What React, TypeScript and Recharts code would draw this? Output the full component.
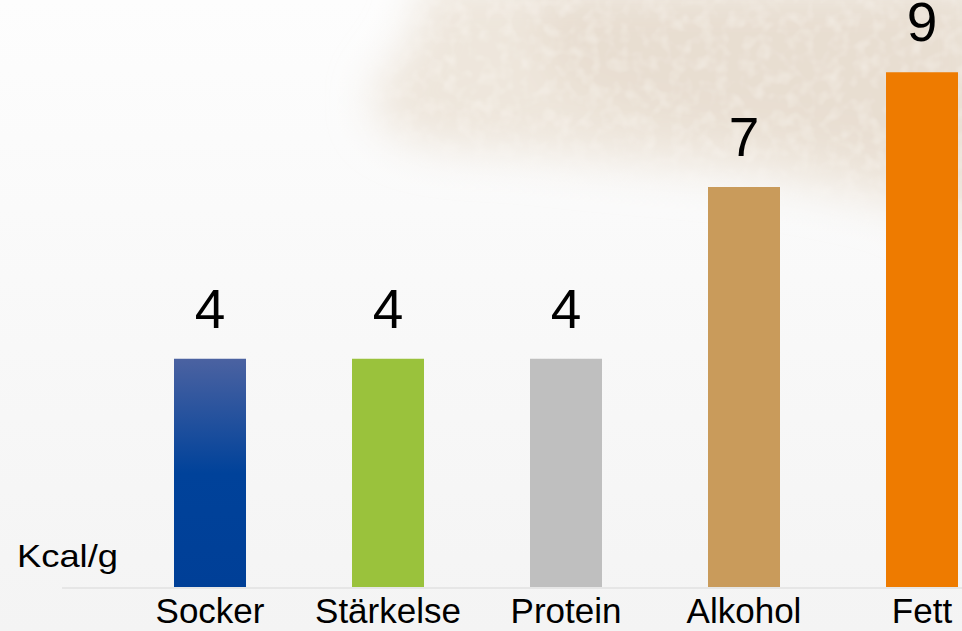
import React from 'react';
import { BarChart, Bar, XAxis, YAxis, Cell, LabelList } from 'recharts';

const categories = ['Socker', 'Stärkelse', 'Protein', 'Alkohol', 'Fett'];
const kcalPerGram = [4, 4, 4, 7, 9];
const barColors = ['url(#sockerGrad)', '#9ac23c', '#bfbfbf', '#c99b5b', '#ee7b00'];
const unitLabel = 'Kcal/g';
const yDomain = [0, 10];

const data = categories.map((name, i) => ({ name, value: kcalPerGram[i] }));

const FONT = '"Liberation Sans", Arial, Helvetica, sans-serif';

function Background() {
  return (
    <svg width={962} height={631} style={{ position: 'absolute', left: 0, top: 0 }}>
      <defs>
        <linearGradient id="bgGrad" x1="0" y1="0" x2="0" y2="1">
          <stop offset="0%" stopColor="#fdfdfd" />
          <stop offset="55%" stopColor="#f8f8f8" />
          <stop offset="100%" stopColor="#f4f4f4" />
        </linearGradient>
        <filter id="sugar" x="-20%" y="-30%" width="140%" height="160%">
          <feGaussianBlur in="SourceGraphic" stdDeviation="22" result="b" />
          <feTurbulence type="fractalNoise" baseFrequency="0.07" numOctaves="2" seed="4" result="n" />
          <feColorMatrix
            in="n"
            type="matrix"
            values="0 0 0 0 1  0 0 0 0 0.98  0 0 0 0 0.95  0.7 0 0 0 -0.3"
            result="w"
          />
          <feComposite in="w" in2="b" operator="in" result="ws" />
          <feMerge>
            <feMergeNode in="b" />
            <feMergeNode in="ws" />
          </feMerge>
        </filter>
      </defs>
      <rect x={0} y={0} width={962} height={631} fill="url(#bgGrad)" />
      <g filter="url(#sugar)">
        <path
          d="M 425 -20 L 990 -20 L 990 250 C 950 240 920 210 880 200 C 830 190 780 178 720 172 C 650 165 580 160 520 152 C 470 150 430 150 400 135 C 370 120 365 95 385 75 C 400 55 420 35 425 -20 Z"
          fill="#eee6dc"
        />
        <path
          d="M 540 -10 L 990 -10 L 990 190 C 930 175 860 150 790 140 C 700 130 630 115 580 95 C 545 75 535 40 540 -10 Z"
          fill="#e6dacc"
          opacity={0.7}
        />
      </g>
    </svg>
  );
}

export default function App() {
  return (
    <div
      style={{
        position: 'fixed',
        left: 0,
        top: 0,
        width: 962,
        height: 631,
        overflow: 'hidden',
        background: '#f7f7f7',
      }}
    >
      <Background />
      <BarChart
        width={1011}
        height={631}
        data={data}
        margin={{ top: 15, right: 0, bottom: 0, left: 62 }}
        style={{ position: 'absolute', left: 0, top: 0 }}
      >
        <defs>
          <linearGradient id="sockerGrad" x1="0" y1="0" x2="0" y2="1">
            <stop offset="0%" stopColor="#4b62a1" />
            <stop offset="50%" stopColor="#00429a" />
            <stop offset="100%" stopColor="#003f97" />
          </linearGradient>
        </defs>
        <XAxis
          dataKey="name"
          height={43}
          padding={{ left: 59, right: 0 }}
          tickLine={false}
          tickSize={0}
          tickMargin={10}
          axisLine={{ stroke: '#e6e6e6', strokeWidth: 2 }}
          tick={{ fill: '#000', fontSize: 35, fontFamily: FONT }}
          interval={0}
        />
        <YAxis hide domain={yDomain} />
        <Bar dataKey="value" barSize={72} isAnimationActive={false}>
          {data.map((d, i) => (
            <Cell key={d.name} fill={barColors[i]} />
          ))}
          <LabelList
            dataKey="value"
            position="top"
            offset={31}
            fill="#000"
            fontSize={55}
            fontFamily={FONT}
          />
        </Bar>
      </BarChart>
      <svg width={200} height={60} style={{ position: 'absolute', left: 0, top: 530 }}>
        <text
          x={17}
          y={37}
          fontSize={32}
          fontFamily={FONT}
          fill="#000"
          textLength={101}
          lengthAdjust="spacingAndGlyphs"
        >
          {unitLabel}
        </text>
      </svg>
    </div>
  );
}
